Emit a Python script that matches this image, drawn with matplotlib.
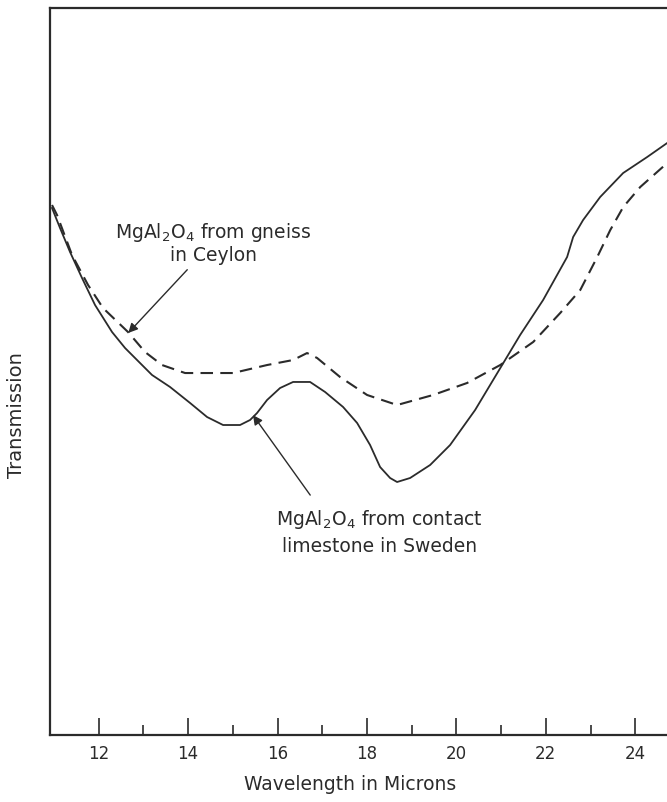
import matplotlib
matplotlib.use("Agg")
import matplotlib.pyplot as plt

# Data (wavelength in microns, transmission in arbitrary %)
sweden_wl = [10.955, 11.134, 11.358, 11.626, 11.917, 12.298, 12.589, 12.969, 13.192, 13.595,
             14.043, 14.423, 14.781, 15.161, 15.385, 15.541, 15.765, 16.056, 16.347, 16.727,
             17.063, 17.465, 17.779, 18.069, 18.293, 18.517, 18.673, 18.964, 19.412, 19.859,
             20.418, 21.022, 21.425, 21.939, 22.476, 22.611, 22.834, 23.215, 23.729, 24.266,
             24.714]
sweden_tr = [72.49, 69.74, 66.44, 62.86, 59.15, 55.43, 53.23, 50.89, 49.52, 47.87,
             45.67, 43.74, 42.64, 42.64, 43.33, 44.29, 46.08, 47.73, 48.56, 48.56,
             47.18, 45.12, 42.92, 39.89, 36.86, 35.35, 34.80, 35.35, 37.14, 39.89,
             44.70, 50.89, 55.02, 59.83, 65.75, 68.50, 70.84, 74.00, 77.30, 79.50,
             81.43]

ceylon_wl = [10.955, 11.067, 11.403, 11.761, 12.096, 12.655, 13.036, 13.416, 13.931, 14.266,
             15.004, 15.765, 16.347, 16.660, 16.884, 17.398, 18.002, 18.673, 19.479, 20.239,
             20.980, 21.718, 22.322, 22.770, 23.150, 23.441, 23.732, 24.112, 24.716]
ceylon_tr = [72.90, 71.53, 66.02, 61.90, 58.73, 55.43, 52.68, 50.89, 49.79, 49.79,
             49.79, 50.89, 51.58, 52.54, 51.86, 49.24, 46.77, 45.39, 46.77, 48.42,
             50.89, 54.06, 58.05, 61.21, 65.75, 69.46, 72.63, 75.38, 78.68]

major_ticks = [12, 14, 16, 18, 20, 22, 24]
minor_ticks = [13, 15, 17, 19, 21, 23]
tick_labels = ["12", "14", "16", "18", "20", "22", "24"]

W, H = 667, 802
fig = plt.figure(figsize=(W / 100, H / 100), dpi=100)
ax = fig.add_axes([50 / W, (H - 735) / H, 1 - 50 / W, (735 - 8) / H])

ink = "#2b2b2b"
ax.plot(sweden_wl, sweden_tr, color=ink, lw=1.3, solid_joinstyle="round")
ax.plot(ceylon_wl, ceylon_tr, color=ink, lw=1.5, dashes=(6, 3.5))

ax.set_xlim(10.91, 24.71)
ax.set_ylim(0, 100)

ax.set_xticks(major_ticks)
ax.set_xticklabels(tick_labels)
ax.set_xticks(minor_ticks, minor=True)
ax.tick_params(axis="x", which="major", direction="in", length=12, width=1.2,
               color=ink, labelsize=12, labelcolor=ink, pad=7)
ax.tick_params(axis="x", which="minor", direction="in", length=7, width=1.2, color=ink)
ax.set_yticks([])

for side in ["left", "bottom", "top"]:
    ax.spines[side].set_linewidth(1.6)
    ax.spines[side].set_color(ink)
ax.spines["right"].set_visible(False)

fig.text(350 / W, 1 - 785 / H, "Wavelength in Microns", ha="center", va="center",
         fontsize=13.5, color=ink)
fig.text(17 / W, 1 - 415 / H, "Transmission", ha="center", va="center",
         rotation=90, fontsize=14, color=ink)

arrow = dict(arrowstyle="-|>", color=ink, lw=1.0, mutation_scale=14, shrinkA=0, shrinkB=0)

ax.text(14.56, 67.7, "MgAl$_2$O$_4$ from gneiss\nin Ceylon", fontsize=13.5, color=ink,
        ha="center", va="center", linespacing=1.15)
ax.annotate("", xy=(12.66, 55.3), xytext=(13.98, 64.0), arrowprops=arrow)

ax.text(18.27, 27.9, "MgAl$_2$O$_4$ from contact\nlimestone in Sweden",
        fontsize=13.5, color=ink, ha="center", va="center", linespacing=1.4)
ax.annotate("", xy=(15.45, 44.0), xytext=(16.73, 33.0), arrowprops=arrow)

fig.savefig("out.png", dpi=100, facecolor="white")
